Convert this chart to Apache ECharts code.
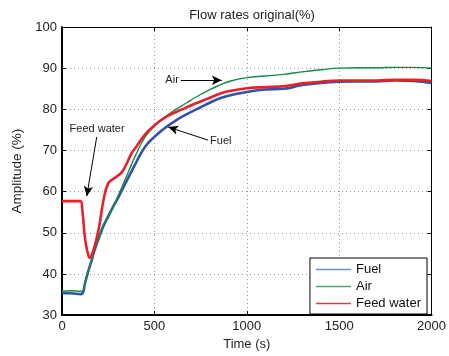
<!DOCTYPE html>
<html>
<head>
<meta charset="utf-8">
<script src="https://cdn.jsdelivr.net/npm/echarts@6/dist/echarts.min.js"></script>
<style>html,body{margin:0;padding:0;background:#fff}#c{width:449px;height:356px}</style>
</head>
<body>
<div id="c"></div>
<script>
var times = [0, 50, 100, 110, 125, 140, 150, 160, 175, 200, 225, 250, 275, 300, 325, 350, 375, 400, 450, 500, 550, 600, 650, 700, 750, 800, 850, 900, 1000, 1100, 1200, 1300, 1400, 1500, 1600, 1700, 1800, 1900, 2000];
var fuel = [35.3, 35.3, 35.1, 35.2, 37.8, 40.3, 41.8, 43.2, 45.6, 48.8, 51.7, 54.0, 56.2, 58.2, 60.4, 62.6, 64.8, 67.0, 70.9, 73.3, 75.2, 76.8, 78.2, 79.4, 80.5, 81.6, 82.6, 83.3, 84.2, 84.8, 85.0, 85.9, 86.4, 86.7, 86.8, 86.8, 87.0, 86.9, 86.4];
var air = [35.8, 35.9, 35.8, 35.8, 38.0, 40.5, 42.0, 43.5, 45.8, 49.0, 52.0, 53.7, 56.2, 58.6, 61.2, 63.8, 66.5, 69.0, 73.3, 75.9, 77.9, 79.5, 80.9, 82.3, 83.6, 84.8, 85.8, 86.7, 87.7, 88.1, 88.5, 89.1, 89.6, 90.0, 90.1, 90.1, 90.2, 90.2, 90.0];
var feedWater = [57.7, 57.7, 57.7, 55.5, 48.5, 45.0, 43.9, 44.5, 46.5, 51.2, 58.0, 62.0, 63.0, 63.8, 64.8, 66.8, 69.2, 70.8, 73.9, 76.1, 77.8, 79.0, 80.0, 81.0, 81.9, 82.8, 83.7, 84.4, 85.1, 85.4, 85.6, 86.3, 86.7, 87.0, 87.0, 87.0, 87.2, 87.2, 86.9];
var seriesNames = ['Fuel', 'Air', 'Feed water'];
var seriesColors = ['#3552A8', '#148A43', '#E8202A'];
var legendColors = ['#6F8FD2', '#4FA872', '#E8383F'];
var xTicks = {min: 0, max: 2000, interval: 500};
var yTicks = {min: 30, max: 100, interval: 10};
// annotations: [label, [t,v] start, [t,v] tip]
var annotations = [
  ['Air', [643, 87.06], [865, 87.06]],
  ['Fuel', [791, 72.5], [575, 75.7]],
  ['Feed water', [188, 73.3], [134, 58.9]]
];

function pairs(vals) { return times.map(function (t, i) { return [t, vals[i]]; }); }

var font = 'Liberation Sans, Arial, Helvetica, sans-serif';
var chart = echarts.init(document.getElementById('c'), null, {renderer: 'canvas'});
var splitLine = {show: true, lineStyle: {color: '#9a9a9a', type: [1, 3], width: 1}};
var mainAxisLine = {show: true, onZero: false, lineStyle: {color: '#000', width: 2}};
var secAxisLine = {show: true, onZero: false, lineStyle: {color: '#000', width: 1}};
var tick = {show: true, inside: true, length: 4, lineStyle: {color: '#000'}};
var widths = [2.6, 1.4, 2.6];

chart.setOption({
  animation: false,
  backgroundColor: '#fff',
  title: {
    text: 'Flow rates original(%)', left: 247, top: 4, textAlign: 'center',
    textStyle: {fontFamily: font, fontSize: 13, fontWeight: 'normal', color: '#222'}
  },
  grid: {left: 62, right: 17, top: 27, bottom: 37, containLabel: false},
  legend: {
    data: seriesNames.map(function (n, i) {
      return {name: n, icon: 'rect', itemStyle: {color: legendColors[i], borderWidth: 0}};
    }),
    orient: 'vertical', right: 22, bottom: 42,
    backgroundColor: '#fff', borderColor: '#000', borderWidth: 1,
    padding: [5, 6, 4, 6], itemGap: 4, itemWidth: 35, itemHeight: 1.6,
    textStyle: {fontFamily: font, fontSize: 13, color: '#111'}
  },
  xAxis: [{
    type: 'value', min: xTicks.min, max: xTicks.max, interval: xTicks.interval,
    name: 'Time (s)', nameLocation: 'middle', nameGap: 19,
    nameTextStyle: {fontFamily: font, fontSize: 13, color: '#222'},
    axisLine: mainAxisLine, axisTick: tick, splitLine: splitLine,
    axisLabel: {fontFamily: font, fontSize: 13, color: '#222', margin: 5,
      formatter: function (v) { return String(v); }}
  }, {
    type: 'value', position: 'top', min: xTicks.min, max: xTicks.max, interval: xTicks.interval,
    axisLine: secAxisLine, axisTick: tick, splitLine: {show: false}, axisLabel: {show: false}
  }],
  yAxis: [{
    type: 'value', min: yTicks.min, max: yTicks.max, interval: yTicks.interval,
    name: 'Amplitude (%)', nameLocation: 'middle', nameGap: 29,
    nameTextStyle: {fontFamily: font, fontSize: 13.5, color: '#222'},
    axisLine: mainAxisLine, axisTick: tick, splitLine: splitLine,
    axisLabel: {fontFamily: font, fontSize: 13, color: '#222', margin: 5,
      formatter: function (v) { return String(v); }}
  }, {
    type: 'value', position: 'right', min: yTicks.min, max: yTicks.max, interval: yTicks.interval,
    axisLine: secAxisLine, axisTick: tick, splitLine: {show: false}, axisLabel: {show: false}
  }],
  series: [fuel, air, feedWater].map(function (vals, i) {
    var s = {
      name: seriesNames[i], type: 'line', data: pairs(vals), showSymbol: false, smooth: 0.5,
      color: seriesColors[i], lineStyle: {width: widths[i], color: seriesColors[i]}, z: 2 + i
    };
    if (i === 2) {
      s.markLine = {
        silent: true, symbol: ['none', 'arrow'], symbolSize: [7, 10], precision: 3,
        lineStyle: {color: '#000', width: 1, type: 'solid'},
        label: {show: true, position: 'start', formatter: '{b}', distance: 2,
          fontFamily: font, fontSize: 11, color: '#222'},
        data: annotations.map(function (a) {
          return [{name: a[0], coord: a[1]}, {coord: a[2]}];
        })
      };
    }
    return s;
  })
});
</script>
</body>
</html>
